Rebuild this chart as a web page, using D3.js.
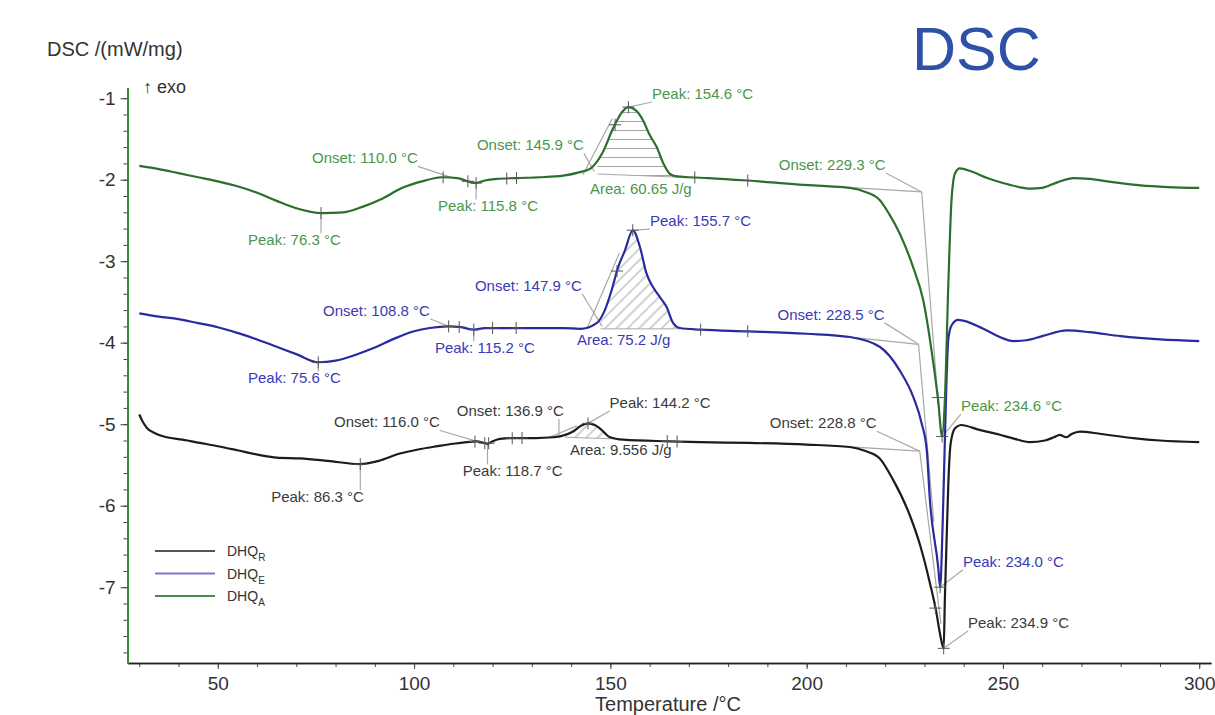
<!DOCTYPE html>
<html>
<head>
<meta charset="utf-8">
<script src="https://cdn.jsdelivr.net/npm/d3@7"></script>
<style>
body { margin: 0; background: #fff; }
svg { font-family: Arial, "Liberation Sans", sans-serif; }
</style>
</head>
<body>
<svg id="chart" width="1215" height="715"></svg>
<script>
// DSC curves: temperature (°C) and DSC (mW/mg)
var tempR = [30,31,32,34,37,41,45.5,50,55,60.8,65,71,78,86.3,91,96.4,101,106,110,113.4,116,117.8,118.7,120,121.9,126,131,135.4,137.2,140.5,142.5,144.3,146,147.3,149.9,153.3,165,172.8,185.5,200,211,215,218.6,222,226.3,229,231.4,233,234,234.9,235.2,235.7,236.1,236.7,237.8,239.3,244,249.2,253,256.8,260.7,263,264.5,265.5,266.2,267.5,269.6,275,283.2,290,300];
var dscR = [-4.88,-4.98,-5.05,-5.11,-5.16,-5.19,-5.23,-5.27,-5.32,-5.38,-5.41,-5.42,-5.45,-5.49,-5.45,-5.36,-5.31,-5.27,-5.24,-5.22,-5.21,-5.23,-5.24,-5.21,-5.18,-5.17,-5.17,-5.16,-5.15,-5.09,-5.02,-4.99,-5.01,-5.05,-5.16,-5.19,-5.21,-5.22,-5.23,-5.25,-5.28,-5.33,-5.42,-5.68,-6.12,-6.5,-6.95,-7.3,-7.58,-7.75,-7.16,-6.34,-5.72,-5.23,-5.05,-5.01,-5.07,-5.13,-5.18,-5.22,-5.20,-5.16,-5.13,-5.15,-5.16,-5.12,-5.09,-5.12,-5.17,-5.20,-5.22];

var tempE = [30,35,40,45,50,55,60,65,70,75.6,80,85,90,95,100,104,108.8,112,115.2,118,122,130,138,142.3,146.5,148.6,150.3,152,153.7,155.7,157.5,159.2,160.9,162.6,164.3,166,167.7,173,185,200,211,218.6,223.7,227.2,229.3,230.6,231.4,233.5,234.0,234.6,235.1,235.6,236.1,237,238.6,245,249.2,252.6,256,260,266.3,272,280,290,300];
var dscE = [-3.64,-3.68,-3.71,-3.76,-3.81,-3.88,-3.96,-4.05,-4.14,-4.24,-4.22,-4.15,-4.06,-3.95,-3.86,-3.82,-3.80,-3.81,-3.84,-3.82,-3.82,-3.82,-3.82,-3.83,-3.76,-3.60,-3.36,-3.07,-2.87,-2.62,-2.82,-3.15,-3.32,-3.44,-3.56,-3.76,-3.82,-3.84,-3.86,-3.89,-3.93,-4.05,-4.34,-4.67,-4.99,-5.32,-5.93,-6.75,-7.0,-6.3,-5.4,-4.5,-3.95,-3.78,-3.72,-3.83,-3.93,-3.98,-3.97,-3.92,-3.85,-3.87,-3.92,-3.96,-3.98];

var tempA = [30,35,40,45,50,55,60,65,70,76.3,82,87,92,97,102,107.4,111,113.7,115.8,118,121,126,132,138,142,145,148,150.7,153,154.6,156.5,158.3,160,161.8,163.5,165.2,167,170,175,185,198,205,211,215,218.6,221,223.7,227.1,229.7,231.8,233.5,234.5,235.2,236.1,236.9,237.8,239,242,246,250,254,257,260,264,268,272,278,285,292,300];
var dscA = [-1.83,-1.87,-1.92,-1.97,-2.02,-2.08,-2.16,-2.26,-2.35,-2.41,-2.40,-2.33,-2.23,-2.10,-2.02,-1.97,-1.98,-2.02,-2.04,-2.01,-1.99,-1.98,-1.97,-1.95,-1.91,-1.86,-1.67,-1.37,-1.17,-1.11,-1.15,-1.27,-1.45,-1.60,-1.80,-1.93,-1.96,-1.97,-1.98,-2.01,-2.06,-2.08,-2.10,-2.15,-2.25,-2.42,-2.66,-3.07,-3.48,-4.09,-4.71,-5.15,-4.71,-3.27,-2.25,-1.92,-1.86,-1.90,-1.98,-2.04,-2.09,-2.11,-2.10,-2.03,-1.98,-1.99,-2.03,-2.07,-2.09,-2.10];

var seriesKeys = ["R", "E", "A"];
var legendSubs = ["R", "E", "A"];
var xTicks = [50, 100, 150, 200, 250, 300];
var yTicks = [-1, -2, -3, -4, -5, -6, -7];

// [series, text, label T, label DSC, target T, target DSC]
var annotations = [
    ["A", "Onset: 110.0 °C", 74.0, -1.80, 110.0, -1.98],
    ["A", "Peak: 115.8 °C", 106.1, -2.39, 115.8, -2.04],
    ["A", "Peak: 76.3 °C", 57.7, -2.80, 76.3, -2.41],
    ["A", "Onset: 145.9 °C", 116.0, -1.64, 145.9, -1.90],
    ["A", "Peak: 154.6 °C", 160.6, -1.01, 154.6, -1.11],
    ["A", "Area: 60.65 J/g", 144.8, -2.18, null, null],
    ["A", "Onset: 229.3 °C", 192.9, -1.88, 229.3, -2.15],
    ["A", "Peak: 234.6 °C", 239.3, -4.84, 234.6, -5.15],
    ["E", "Peak: 155.7 °C", 160.1, -2.57, 155.7, -2.62],
    ["E", "Onset: 147.9 °C", 115.5, -3.36, 147.9, -3.80],
    ["E", "Onset: 108.8 °C", 76.8, -3.67, 108.8, -3.80],
    ["E", "Peak: 115.2 °C", 105.3, -4.13, 115.2, -3.84],
    ["E", "Area: 75.2 J/g", 141.5, -4.03, null, null],
    ["E", "Peak: 75.6 °C", 57.7, -4.50, 75.6, -4.24],
    ["E", "Onset: 228.5 °C", 192.6, -3.72, 228.5, -4.02],
    ["E", "Peak: 234.0 °C", 239.8, -6.75, 234.0, -7.0],
    ["R", "Onset: 116.0 °C", 79.6, -5.04, 116.0, -5.21],
    ["R", "Onset: 136.9 °C", 110.9, -4.90, 136.9, -5.16],
    ["R", "Peak: 144.2 °C", 149.8, -4.80, 144.3, -4.99],
    ["R", "Area: 9.556 J/g", 139.7, -5.38, null, null],
    ["R", "Peak: 118.7 °C", 112.4, -5.64, 118.7, -5.24],
    ["R", "Peak: 86.3 °C", 63.6, -5.96, 86.3, -5.49],
    ["R", "Onset: 228.8 °C", 190.6, -5.05, 228.8, -5.33],
    ["R", "Peak: 234.9 °C", 241.1, -7.50, 234.9, -7.75]
];

// evaluation marks on each curve (temperatures)
var marksA = [76.3, 107.4, 113.7, 115.8, 123.6, 126.1, 151.2, 154.6, 171.5, 185, 233.4, 234.5];
var marksE = [75.6, 108.8, 111.5, 115.2, 120, 126, 151.7, 155.7, 173, 185, 234.0];
var marksR = [86.3, 115.5, 118, 119, 125, 127.5, 144.3, 164.5, 167, 232.8, 234.9];

// integrated areas: [series, T start, T end, baseline start, baseline end]
var areas = [
    ["A", 146.8, 168, -1.93, -1.97],
    ["E", 147.5, 167.7, -3.83, -3.83],
    ["R", 138.5, 151, -5.16, -5.18]
];

// onset tangents: [T1, DSC1, T2, DSC2]
var tangents = [
    [205, -2.08, 229.3, -2.15], [229.3, -2.15, 233.6, -4.8],
    [205, -3.90, 228.5, -4.02], [228.5, -4.02, 232.4, -6.2],
    [205, -5.26, 228.8, -5.33], [228.8, -5.33, 234.2, -7.45],
    [143, -1.94, 150.5, -1.25], [144, -3.83, 152.3, -2.9], [134, -5.17, 141.5, -5.02]
];

var curveData = {
    R: {t: tempR, v: dscR, marks: marksR},
    E: {t: tempE, v: dscE, marks: marksE},
    A: {t: tempA, v: dscA, marks: marksA}
};
var lineColor = {R: "#1c1c1c", E: "#2a2aa0", A: "#2c6e2c"};
var textColor = {R: "#3a3a3a", E: "#3a3ab4", A: "#4a964a"};
var legendColor = {R: "#555555", E: "#7a78c8", A: "#4b8c4b"};

var svg = d3.select("#chart");

var x = d3.scaleLinear().domain([27, 303]).range([127.5, 1211]);
var y = d3.scaleLinear().domain([-7.93, -0.87]).range([663, 87.6]);

function interp(ts, vs, t) {
    var i = d3.bisectLeft(ts, t);
    if (i <= 0) return vs[0];
    if (i >= ts.length) return vs[vs.length - 1];
    var t0 = ts[i - 1], t1 = ts[i];
    return vs[i - 1] + (vs[i] - vs[i - 1]) * (t - t0) / (t1 - t0);
}

// hatch patterns
var defs = svg.append("defs");
defs.append("pattern")
    .attr("id", "hatchH").attr("patternUnits", "userSpaceOnUse")
    .attr("width", 10).attr("height", 9)
    .append("line").attr("x1", 0).attr("y1", 4.5).attr("x2", 10).attr("y2", 4.5)
    .attr("stroke", "#9a9a9a").attr("stroke-width", 0.9);
["hatchD"].forEach(function (id) {
    defs.append("pattern")
        .attr("id", id).attr("patternUnits", "userSpaceOnUse")
        .attr("width", 8).attr("height", 8)
        .attr("patternTransform", "rotate(45)")
        .append("line").attr("x1", 4).attr("y1", 0).attr("x2", 4).attr("y2", 8)
        .attr("stroke", "#9a9a9a").attr("stroke-width", 0.9);
});

// hatched peak areas
areas.forEach(function (a) {
    var c = curveData[a[0]];
    var pts = d3.range(a[1], a[2] + 0.001, 0.25);
    var area = d3.area()
        .x(function (t) { return x(t); })
        .y0(function (t) { return y(a[3] + (a[4] - a[3]) * (t - a[1]) / (a[2] - a[1])); })
        .y1(function (t) { return y(Math.max(interp(c.t, c.v, t), a[3] + (a[4] - a[3]) * (t - a[1]) / (a[2] - a[1]))); });
    svg.append("path")
        .attr("d", area(pts))
        .attr("fill", a[0] === "A" ? "url(#hatchH)" : "url(#hatchD)")
        .attr("stroke", "none");
    svg.append("line")
        .attr("x1", x(a[1])).attr("y1", y(a[3]))
        .attr("x2", x(a[2])).attr("y2", y(a[4]))
        .attr("stroke", "#a8a8a8").attr("stroke-width", 1);
});

// onset tangent lines
svg.selectAll("line.tangent")
    .data(tangents)
    .enter()
    .append("line")
    .attr("class", "tangent")
    .attr("x1", function (d) { return x(d[0]); })
    .attr("y1", function (d) { return y(d[1]); })
    .attr("x2", function (d) { return x(d[2]); })
    .attr("y2", function (d) { return y(d[3]); })
    .attr("stroke", "#a8a8a8")
    .attr("stroke-width", 1.2);

// axes
var xAxisMinor = d3.axisBottom(x).tickValues(d3.range(30, 301, 10)).tickSize(4).tickSizeOuter(0).tickFormat("");
var xAxis = d3.axisBottom(x).tickValues(xTicks).tickSize(6).tickSizeOuter(0).tickFormat(function (d) { return String(d); });
svg.append("g").attr("transform", "translate(0," + y(-7.93) + ")").call(xAxisMinor);
var gx = svg.append("g").attr("transform", "translate(0," + y(-7.93) + ")").call(xAxis);
gx.selectAll("text").attr("font-size", 19).attr("fill", "#333").attr("dy", "0.95em");
svg.selectAll(".domain").attr("stroke", "#222").attr("stroke-width", 1.5);

var yAxisMinor = d3.axisLeft(y).tickValues(d3.range(-7.8, -0.85, 0.2)).tickSize(4).tickSizeOuter(0).tickFormat("");
var yAxis = d3.axisLeft(y).tickValues(yTicks).tickSize(7).tickSizeOuter(0).tickFormat(function (d) { return String(d); });
var gyMinor = svg.append("g").attr("transform", "translate(" + x(27) + ",0)").call(yAxisMinor);
var gy = svg.append("g").attr("transform", "translate(" + x(27) + ",0)").call(yAxis);
gy.selectAll("text").attr("font-size", 19).attr("fill", "#333").attr("dx", "-0.1em");
gy.select(".domain").attr("stroke", "#3b8a3b").attr("stroke-width", 2);
gyMinor.select(".domain").attr("stroke", "#3b8a3b").attr("stroke-width", 2);
svg.selectAll(".tick line").attr("stroke", "#444");

// curves
var line = d3.line()
    .x(function (d) { return x(d[0]); })
    .y(function (d) { return y(d[1]); })
    .curve(d3.curveMonotoneX);

seriesKeys.forEach(function (k) {
    var c = curveData[k];
    var pts = c.t.map(function (t, i) { return [t, c.v[i]]; });
    svg.append("path")
        .attr("d", line(pts))
        .attr("fill", "none")
        .attr("stroke", lineColor[k])
        .attr("stroke-width", 2.2)
        .attr("stroke-linejoin", "round");
});

// evaluation marks
seriesKeys.forEach(function (k) {
    var c = curveData[k];
    c.marks.forEach(function (t) {
        var px = x(t), py = y(interp(c.t, c.v, t));
        svg.append("path")
            .attr("d", "M" + (px - 6) + "," + py + "H" + (px + 6) + "M" + px + "," + (py - 6) + "V" + (py + 6))
            .attr("stroke", "#555").attr("stroke-width", 1);
    });
});

// annotation labels and leaders
annotations.forEach(function (a) {
    var t = svg.append("text")
        .attr("x", x(a[2]))
        .attr("y", y(a[3]))
        .attr("font-size", 15)
        .attr("fill", textColor[a[0]])
        .text(a[1]);
    if (a[4] === null) return;
    var bb = t.node().getBBox();
    var tx = x(a[4]), ty = y(a[5]);
    var sx = Math.max(bb.x, Math.min(bb.x + bb.width, tx));
    var sy = Math.max(bb.y + 2, Math.min(bb.y + bb.height, ty));
    svg.insert("line", "path")
        .attr("x1", sx).attr("y1", sy)
        .attr("x2", tx).attr("y2", ty)
        .attr("stroke", "#aaaaaa").attr("stroke-width", 1.2);
});

// legend
var legend = svg.append("g").attr("transform", "translate(155,551)");
seriesKeys.forEach(function (k, i) {
    legend.append("line")
        .attr("x1", 0).attr("x2", 60)
        .attr("y1", i * 22.5).attr("y2", i * 22.5)
        .attr("stroke", legendColor[k]).attr("stroke-width", 2.2);
    var lt = legend.append("text")
        .attr("x", 72).attr("y", i * 22.5 + 5)
        .attr("font-size", 14).attr("fill", "#333")
        .text("DHQ");
    lt.append("tspan").attr("font-size", 10).attr("dy", 5).text(legendSubs[i]);
});

// titles
svg.append("text").attr("x", 47).attr("y", 56).attr("font-size", 20).attr("fill", "#333").text("DSC /(mW/mg)");
svg.append("text").attr("x", 143).attr("y", 93).attr("font-size", 18).attr("fill", "#333").text("↑ exo");
svg.append("text").attr("x", 668).attr("y", 711).attr("font-size", 20).attr("fill", "#333")
    .attr("text-anchor", "middle").text("Temperature /°C");
svg.append("text").attr("x", 912).attr("y", 70).attr("font-size", 61).attr("fill", "#2c51a6").text("DSC");
</script>
</body>
</html>
